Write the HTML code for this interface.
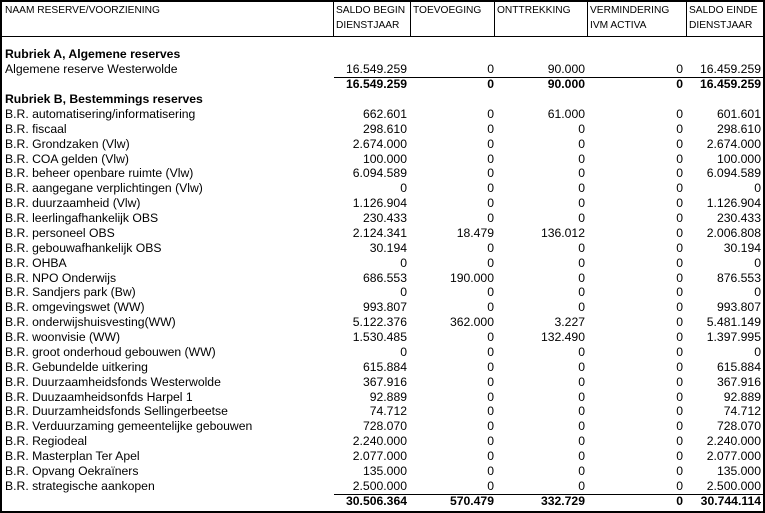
<!DOCTYPE html>
<html><head><meta charset="utf-8"><style>
body{margin:0;background:#fff}
#c{position:relative;width:765px;height:513px;overflow:hidden;font-family:"Liberation Sans",sans-serif;color:#000}
.b{position:absolute;left:0;top:0;width:761px;height:509px;border:2px solid #000}
.v{position:absolute;top:0;height:36px;width:1px;background:#000}
.h{position:absolute;top:36px;left:0;width:765px;height:1px;background:#000}
.hd{position:absolute;top:3px;font-size:10.2px;line-height:15px}
.r{position:absolute;left:0;width:765px;height:15px;font-size:12.2px;line-height:15px;white-space:nowrap}
.r span{position:absolute}
.l{left:5px}
.n1{right:358px}.n2{right:271px}.n3{right:180px}.n4{right:82px}.n5{right:4px}
.bo{font-weight:bold}
.u{position:absolute;left:334px;width:431px;height:1px;background:#000}
</style></head><body><div id="c">
<div class="b"></div>
<div class="v" style="left:333px"></div><div class="v" style="left:410px"></div><div class="v" style="left:494px"></div><div class="v" style="left:587px"></div><div class="v" style="left:686px"></div>
<div class="h"></div>
<div class="hd" style="left:5px">NAAM RESERVE/VOORZIENING</div>
<div class="hd" style="left:336px">SALDO BEGIN<br>DIENSTJAAR</div>
<div class="hd" style="left:413px">TOEVOEGING</div>
<div class="hd" style="left:497px">ONTTREKKING</div>
<div class="hd" style="left:590px">VERMINDERING<br>IVM ACTIVA</div>
<div class="hd" style="left:689px">SALDO EINDE<br>DIENSTJAAR</div>
<div id="rows"></div>
</div>
<script>
var d=[
["Rubriek A, Algemene reserves",null,1],
["Algemene reserve Westerwolde",["16.549.259","0","90.000","0","16.459.259"]],
["",["16.549.259","0","90.000","0","16.459.259"],1,1],
["Rubriek B, Bestemmings reserves",null,1],
["B.R. automatisering/informatisering",["662.601","0","61.000","0","601.601"]],
["B.R. fiscaal",["298.610","0","0","0","298.610"]],
["B.R. Grondzaken (Vlw)",["2.674.000","0","0","0","2.674.000"]],
["B.R. COA gelden (Vlw)",["100.000","0","0","0","100.000"]],
["B.R. beheer openbare ruimte (Vlw)",["6.094.589","0","0","0","6.094.589"]],
["B.R. aangegane verplichtingen (Vlw)",["0","0","0","0","0"]],
["B.R. duurzaamheid (Vlw)",["1.126.904","0","0","0","1.126.904"]],
["B.R. leerlingafhankelijk OBS",["230.433","0","0","0","230.433"]],
["B.R. personeel OBS",["2.124.341","18.479","136.012","0","2.006.808"]],
["B.R. gebouwafhankelijk OBS",["30.194","0","0","0","30.194"]],
["B.R. OHBA",["0","0","0","0","0"]],
["B.R. NPO Onderwijs",["686.553","190.000","0","0","876.553"]],
["B.R. Sandjers park  (Bw)",["0","0","0","0","0"]],
["B.R. omgevingswet (WW)",["993.807","0","0","0","993.807"]],
["B.R. onderwijshuisvesting(WW)",["5.122.376","362.000","3.227","0","5.481.149"]],
["B.R. woonvisie (WW)",["1.530.485","0","132.490","0","1.397.995"]],
["B.R. groot onderhoud gebouwen (WW)",["0","0","0","0","0"]],
["B.R. Gebundelde uitkering",["615.884","0","0","0","615.884"]],
["B.R. Duurzaamheidsfonds Westerwolde",["367.916","0","0","0","367.916"]],
["B.R. Duuzaamheidsonfds Harpel 1",["92.889","0","0","0","92.889"]],
["B.R. Duurzamheidsfonds Sellingerbeetse",["74.712","0","0","0","74.712"]],
["B.R. Verduurzaming gemeentelijke gebouwen",["728.070","0","0","0","728.070"]],
["B.R. Regiodeal",["2.240.000","0","0","0","2.240.000"]],
["B.R. Masterplan Ter Apel",["2.077.000","0","0","0","2.077.000"]],
["B.R. Opvang Oekraïners",["135.000","0","0","0","135.000"]],
["B.R. strategische aankopen",["2.500.000","0","0","0","2.500.000"]],
["",["30.506.364","570.479","332.729","0","30.744.114"],1,1]
];
var h="";
d.forEach(function(r,i){var t=47.3+i*14.88;
if(r[3])h+='<div class="u" style="top:'+(t).toFixed(1)+'px"></div>';
h+='<div class="r'+(r[2]?' bo':'')+'" style="top:'+t.toFixed(1)+'px"><span class="l">'+r[0]+'</span>';
if(r[1])r[1].forEach(function(v,j){h+='<span class="n'+(j+1)+'">'+v+'</span>';});
h+='</div>';});
document.getElementById("rows").innerHTML=h;
</script>
</body></html>
